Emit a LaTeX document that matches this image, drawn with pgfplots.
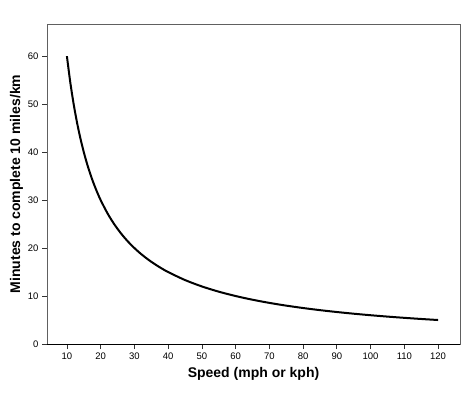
\documentclass[border=0pt]{standalone}
\usepackage{fontspec}
\setmainfont{Liberation Sans}
\usepackage{pgfplots}
\pgfplotsset{compat=1.18}
\begin{document}
\begin{tikzpicture}
\begin{axis}[
  name=ax,
  scale only axis,
  width=413pt, height=320pt,
  xmin=4.1, xmax=126.5, ymin=0, ymax=66.7,
  xtick={10,20,...,120}, ytick={0,10,...,60},
  tick align=outside, xtick pos=bottom, ytick pos=left,
  major tick length=5pt,
  tick style={black!80, line width=0.7pt},
  axis line style={gray!75!black, line width=0.9pt},
  /pgf/number format/assume math mode=true,
  ticklabel style={font=\fontsize{9.5}{11}\selectfont},
  label style={font=\bfseries\fontsize{14}{16}\selectfont},
  xlabel={Speed (mph or kph)},
  ylabel={Minutes to complete 10 miles/km},
  xlabel style={yshift=-1pt},
  ylabel style={yshift=-2pt},
  clip=false,
]
\draw[black, line width=1pt] (rel axis cs:0,0) -- (rel axis cs:1,0);
\addplot[black, line width=2pt, smooth] coordinates {
(10,60) (11,54.545) (12,50) (13,46.154) (14,42.857) (15,40) (16,37.5) (17,35.294)
(18,33.333) (19,31.579) (20,30) (22,27.273) (24,25) (26,23.077) (28,21.429)
(30,20) (32,18.75) (34,17.647) (36,16.667) (38,15.789) (40,15) (45,13.333)
(50,12) (55,10.909) (60,10) (65,9.231) (70,8.571) (75,8) (80,7.5) (85,7.059)
(90,6.667) (95,6.316) (100,6) (105,5.714) (110,5.455) (115,5.217) (120,5)
};
\end{axis}
\path ([xshift=-47pt,yshift=-48pt]ax.south west) rectangle ([xshift=10pt,yshift=24pt]ax.north east);
\end{tikzpicture}
\end{document}
